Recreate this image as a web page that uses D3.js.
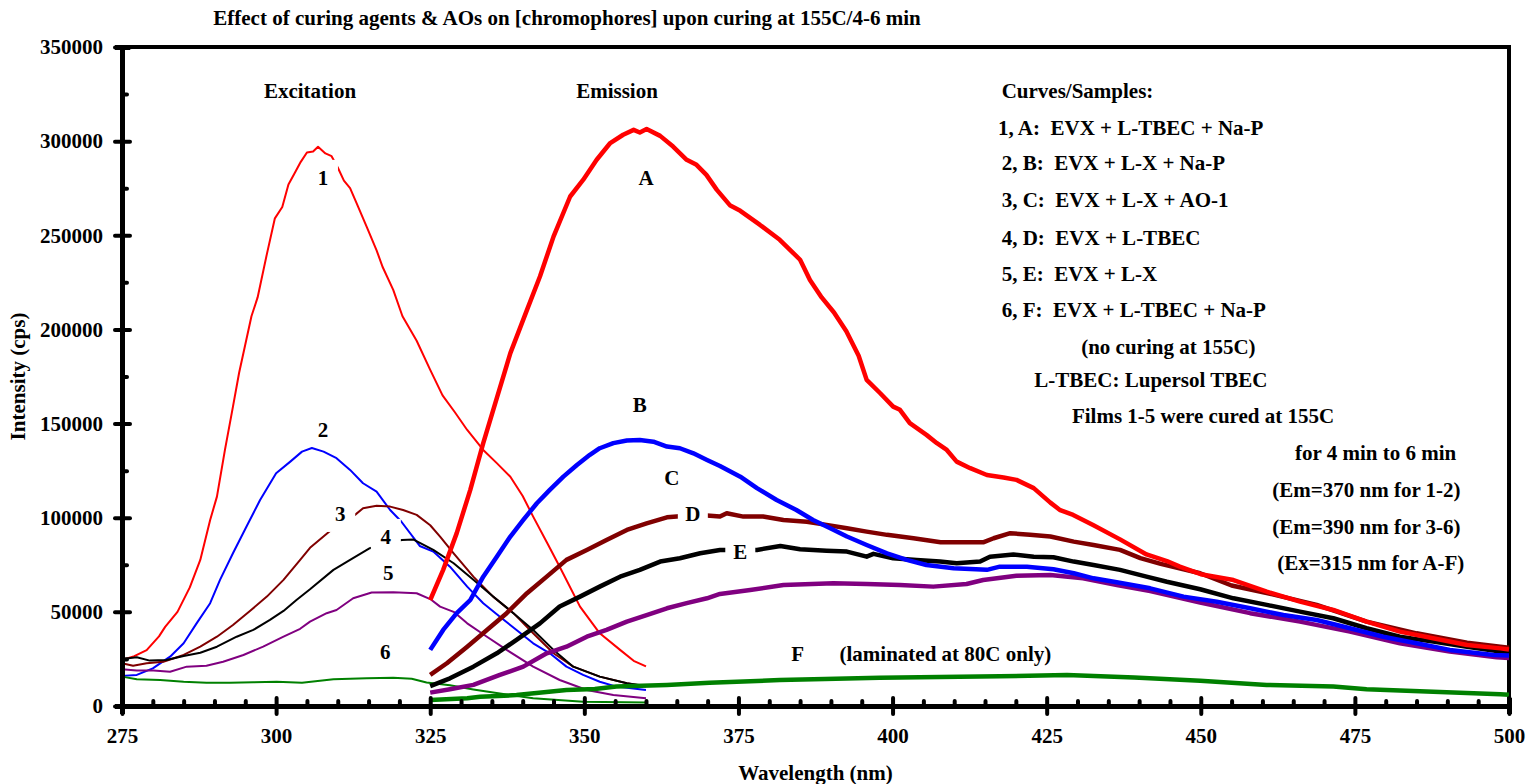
<!DOCTYPE html>
<html>
<head>
<meta charset="utf-8">
<script src="https://cdn.jsdelivr.net/npm/d3@7"></script>
<style>
body { margin: 0; background: #fff; }
svg text { font-family: "Times New Roman", "Liberation Serif", serif; font-weight: bold; fill: #000; white-space: pre; }
</style>
</head>
<body>
<div id="chart"></div>
<script>
// excitation spectra, [wavelength nm, intensity cps]
var ex1 = [[275,24400],[277,26500],[279,29700],[281,37000],[282,42000],[284,50000],[286,63000],[287.7,77600],[289.3,98800],[290.4,111200],[291.7,136000],[293,159000],[294,177000],[295,192000],[296,207000],[297,217000],[298.5,240000],[299.8,259000],[301,265000],[302,277000],[303,283000],[304,289000],[305,294000],[306,294500],[306.8,297000],[308,293500],[309,292000],[310,286000],[311,279000],[312,275000],[313,267500],[314.7,254500],[316.3,242000],[317.3,233000],[319,221000],[320.5,207000],[322.8,194000],[325,178500],[327,165000],[329,156000],[331,146600],[333.6,136000],[335.8,129000],[338,121800],[340,111500],[341.7,100600],[344,86400],[346,74000],[349.3,52800],[352.5,38600],[355.8,29800],[358,24000],[360,21000]];
var ex2 = [[275,16000],[277.4,16500],[280,20000],[282.8,26200],[285,33300],[287.1,43900],[289.3,54600],[290.9,67000],[293,81100],[295.2,95300],[297.4,109400],[300,123600],[302.3,129800],[304.2,135100],[305.8,137000],[307.7,135100],[309.8,131600],[312,125400],[314.1,118300],[316.3,113900],[318.5,104100],[320.3,98000],[323.3,85000],[325.5,82000],[328.2,74000],[331,63400],[333.6,54600],[336.3,47400],[339,40400],[341.7,33300],[344.4,28000],[347.1,20900],[349.8,16500],[352.5,12900],[355.2,10300],[360,8500]];
var ex3 = [[275,22700],[276.8,21400],[279,22700],[281.7,23500],[285,27100],[287.7,31500],[290.4,36800],[293,43000],[295.8,50600],[298.5,58100],[301.2,67000],[303.9,77600],[305.5,84000],[308.6,92600],[310.5,97000],[312.8,101500],[314.1,105000],[316.3,106300],[318.5,105900],[320.6,104100],[322.8,101500],[325,96000],[326.6,90000],[328.8,81100],[332,68700],[335.2,58100],[338.5,49300],[341.7,38600],[345,28000],[348.2,20900],[352.5,15600],[356.9,12100],[360,10300]];
var ex4 = [[275,25000],[277.4,25900],[279.5,24100],[282.2,24400],[285,26600],[287.7,28300],[290.4,31500],[293.6,36800],[296.3,40400],[299,45700],[301.2,50500],[303.3,56300],[305.5,62000],[309.3,72300],[312,77600],[315.2,83800],[317.5,86000],[320.4,88200],[322.3,88400],[325.5,82900],[328.8,75800],[332,67000],[335.2,58100],[338.5,49300],[341.7,40400],[345,29800],[348.2,20900],[352.5,15600],[356.9,12100],[360,10600]];
var ex5 = [[275,19500],[277.4,18800],[280.1,18800],[282.8,18200],[285.5,20900],[288.7,21400],[291.4,23500],[294.7,27100],[297.9,31500],[301.2,36800],[303.9,41000],[305.5,44800],[308.2,49300],[309.8,51000],[312.5,57200],[315.5,60300],[319,60400],[322.8,59900],[325,56800],[326.6,52800],[328.8,50000],[331,43900],[334.2,36800],[337.4,29800],[341.7,20900],[346,13800],[350.4,8500],[354.7,5800],[360,4100]];
var ex6 = [[275,15600],[277.4,14200],[281.2,13800],[285,12900],[288.7,12400],[292.5,12400],[296.3,12600],[300.1,12900],[304.2,12400],[309.3,14200],[314.7,14700],[319,15000],[322,14500],[324.4,12500],[328.2,11000],[332,8800],[336.3,6600],[341.7,4100],[349.8,2300],[360,1800]];

// emission spectra
var emA = [[325,56300],[327.1,72300],[329.3,91800],[331.5,114800],[333.6,139600],[335.8,163500],[338,187400],[340.7,210400],[342.8,228100],[345,249300],[347.7,270600],[349.8,279400],[352,290100],[354.2,299000],[356.3,303400],[358,306000],[359,304600],[360.1,306400],[362.3,302800],[364.4,297100],[366.6,290100],[368.2,287400],[369.8,282100],[371.5,274100],[373.6,266000],[375.3,263000],[378.5,255500],[381.7,247600],[385,237000],[386.6,226300],[388.5,217000],[390.5,209000],[392.5,199000],[394.5,186000],[395.8,173200],[398,166100],[400.1,159000],[401.2,157300],[402.8,150200],[405.5,144000],[407.2,139600],[408.8,136000],[410.4,129800],[412.6,126300],[415.3,122700],[418,121400],[420.1,120100],[422.9,115700],[425.6,108000],[427.2,104000],[429.3,101500],[432.6,96000],[436.9,88500],[441.2,80500],[444.5,77000],[446.6,74000],[450,70000],[455.3,66900],[460.7,60700],[466.1,55400],[471.5,51000],[476.9,44800],[482.3,39500],[487.7,36000],[493.2,32400],[498.6,30600],[500,30000]];
var emB = [[325,29800],[327.1,40400],[329.3,49300],[331.5,56300],[333.6,68700],[335.8,79300],[338,90000],[340.1,98800],[342.3,107700],[344.4,114800],[346.6,121800],[348.8,128000],[350.9,133400],[352.5,136900],[354.7,139600],[356.9,141000],[359,141300],[361.2,140400],[363.4,137800],[365.5,136900],[367.7,134200],[369.9,130700],[372,127500],[375.3,121800],[378,115700],[381.2,109400],[384.4,104100],[387.1,98800],[389.9,94400],[392.6,90000],[395.8,85500],[399.1,81100],[402.3,77600],[405.5,74900],[409.9,73200],[415.3,72300],[417.4,74000],[421.8,74000],[426.1,72600],[429.4,70500],[432.6,67800],[436.6,65600],[441.8,62500],[447.2,58100],[452.6,55400],[458,51900],[463.4,48300],[468.8,45700],[474.2,41300],[479.6,36800],[485,33300],[490.4,29800],[497.5,27100],[500,26800]];
var emC = [[325,16500],[327.7,22700],[331,31500],[334.2,40400],[337.4,49300],[340.7,59900],[343.9,68700],[347.1,77600],[350.4,82900],[353.6,88200],[356.9,93500],[360.1,97000],[363.4,100200],[365,100600],[368.8,101500],[372,100600],[373.1,102400],[375.8,100600],[379,100600],[382.3,98800],[386.1,97900],[389.3,96200],[392.6,94400],[395.8,92600],[399.1,90900],[403.4,89100],[407.8,87000],[412.1,87000],[414.8,87000],[416.4,89100],[419.1,91800],[422.3,90900],[425.6,90000],[429.4,87300],[432.6,85500],[436.9,82900],[440.2,78500],[443.5,75500],[449.9,70500],[455,64000],[460.7,60000],[468.8,53700],[476.9,44800],[485,38600],[493.2,33600],[498.6,31500],[500,31000]];
var emD = [[325,10600],[328.2,14700],[332,20900],[335.8,28000],[339,35100],[342.8,43900],[346,52800],[349.3,58100],[352.5,63400],[355.8,68700],[359,72300],[362.3,76700],[365.5,78500],[368.8,81100],[372,82900],[378,82900],[381.8,85000],[385,83300],[389.3,82500],[392.6,82000],[395.8,79300],[396.9,80800],[400.1,78500],[403.9,77600],[407.7,76700],[410.4,75800],[414.2,76700],[415.8,79300],[419.6,80500],[422.9,79300],[426.1,79000],[429.4,76700],[432.6,74900],[436.9,72300],[441.2,68700],[444.5,66000],[449.9,62000],[455.3,57200],[460.7,53700],[466.1,50100],[471.5,46600],[476.9,41300],[482.3,36800],[487.7,34200],[493.2,31500],[498.6,28900],[500,28500]];
var emE = [[325,7100],[328.2,8900],[332,11200],[336.3,16500],[340.1,20900],[343.9,28000],[347.1,31500],[350.4,36800],[353.6,40400],[356.9,44800],[360.1,48300],[363.4,51900],[366.6,54600],[369.9,57200],[372,59500],[376.9,61600],[382.3,64300],[390.4,65200],[395.8,64800],[401.2,64300],[406.6,63400],[412,64800],[414.7,66900],[420.1,69200],[425.6,69600],[430.9,67800],[436.4,64300],[441.8,61000],[449.9,55000],[458,49300],[466.1,44800],[474.2,39500],[482.3,33300],[490.4,28900],[498,25900],[500,25500]];
var emF = [[325,3200],[331,4100],[333.1,4900],[339,5800],[347.1,8500],[351.7,9000],[355.2,10300],[363.4,11200],[370.3,12300],[381.7,13800],[389,14300],[397.9,15000],[407.6,15400],[417.4,15800],[428.3,16500],[439.2,15200],[449.9,13400],[460.7,11200],[471.5,10300],[476.9,8900],[487.7,7600],[498.6,6200],[500,6000]];

var colors = ["#ff0000", "#0000ff", "#800000", "#000000", "#800080", "#008000"];
var excitation = [ex1, ex2, ex3, ex4, ex5, ex6];
var emission = [emA, emB, emC, emD, emE, emF];

var xTicks = d3.range(275, 501, 25);
var yTicks = d3.range(0, 350001, 50000);

// curve labels: [text, nm, intensity, boxed]
var curveLabels = [
    ["1", 307.6, 280500, true], ["2", 307.6, 146600, false], ["3", 310.4, 102000, true],
    ["4", 317.8, 89800, true], ["5", 318.2, 70700, true], ["6", 317.7, 28700, false],
    ["A", 360.0, 280500, false], ["B", 359.0, 159900, false], ["C", 364.2, 121100, false],
    ["D", 367.6, 102000, true], ["E", 375.3, 81800, true], ["F", 384.6, 27600, false]
];

// notes: [text, nm, intensity, anchor]
var notes = [
    ["Excitation", 305.5, 326700, "middle"],
    ["Emission", 355.3, 326700, "middle"],
    ["Curves/Samples:", 417.7, 326700, "start"],
    ["1, A:  EVX + L-TBEC + Na-P", 417.1, 307100, "start"],
    ["2, B:  EVX + L-X + Na-P", 417.7, 288500, "start"],
    ["3, C:  EVX + L-X + AO-1", 417.7, 268800, "start"],
    ["4, D:  EVX + L-TBEC", 417.7, 248600, "start"],
    ["5, E:  EVX + L-X", 417.7, 229500, "start"],
    ["6, F:  EVX + L-TBEC + Na-P", 417.7, 210400, "start"],
    ["(no curing at 155C)", 430.6, 190700, "start"],
    ["L-TBEC: Lupersol TBEC", 423.0, 173200, "start"],
    ["Films 1-5 were cured at 155C", 429.1, 154100, "start"],
    ["for 4 min to 6 min", 465.3, 134400, "start"],
    ["(Em=370 nm for 1-2)", 461.6, 114800, "start"],
    ["(Em=390 nm for 3-6)", 461.6, 95100, "start"],
    ["(Ex=315 nm for A-F)", 462.4, 76000, "start"],
    ["(laminated at 80C only)", 391.4, 27600, "start"]
];

var width = 1527, height = 784;
var svg = d3.select("#chart").append("svg")
    .attr("width", width)
    .attr("height", height);

var x = d3.scaleLinear().domain([275, 500]).range([122, 1509]);
var y = d3.scaleLinear().domain([0, 350000]).range([706, 47]);

var line = d3.line()
    .x(function(d) { return x(d[0]); })
    .y(function(d) { return y(d[1]); });

// frame top and right
svg.append("path")
    .attr("d", "M" + x(275) + "," + y(350000) + "H" + x(500) + "V" + y(0))
    .attr("fill", "none").attr("stroke", "#000").attr("stroke-width", 4);

// thin excitation lines first, thick emission lines above
svg.append("g").selectAll("path")
    .data(excitation)
    .enter().append("path")
    .attr("d", line)
    .attr("fill", "none")
    .attr("stroke", function(d, i) { return colors[i]; })
    .attr("stroke-width", 2)
    .attr("stroke-linejoin", "round");

svg.append("g").selectAll("path")
    .data(emission.slice().reverse())
    .enter().append("path")
    .attr("d", line)
    .attr("fill", "none")
    .attr("stroke", function(d, i) { return colors[5 - i]; })
    .attr("stroke-width", 4.5)
    .attr("stroke-linejoin", "round");

// y axis
var yAxis = svg.append("g").attr("transform", "translate(" + x(275) + ",0)");
yAxis.call(d3.axisLeft(y).tickValues(yTicks).tickSize(7).tickPadding(12).tickFormat(d3.format("d")));
yAxis.append("g").call(d3.axisRight(y).tickValues(yTicks).tickSize(8).tickFormat(""));
yAxis.append("g").call(d3.axisRight(y).tickValues(d3.range(25000, 350000, 50000)).tickSize(5).tickFormat(""));

// x axis
var xAxis = svg.append("g").attr("transform", "translate(0," + y(0) + ")");
xAxis.call(d3.axisBottom(x).tickValues(xTicks).tickSize(8).tickPadding(14));
xAxis.append("g").call(d3.axisTop(x).tickValues(xTicks).tickSize(8).tickFormat(""));
xAxis.append("g").call(d3.axisTop(x).tickValues(d3.range(280, 500, 5).filter(function(v) { return v % 25 !== 0; })).tickSize(5).tickFormat(""));

svg.selectAll(".domain").attr("stroke", "#000").attr("stroke-width", 5);
svg.selectAll(".tick line").attr("stroke", "#000").attr("stroke-width", 4).attr("stroke-linecap", "round");
svg.selectAll(".tick text").style("font-size", "21px").attr("fill", "#000");

// curve labels, some on white boxes that hide the line
var lab = svg.append("g").selectAll("g")
    .data(curveLabels)
    .enter().append("g")
    .attr("transform", function(d) { return "translate(" + x(d[1]) + "," + y(d[2]) + ")"; });
lab.filter(function(d) { return d[3]; }).append("rect")
    .attr("x", -15).attr("y", -18).attr("width", 30).attr("height", 36)
    .attr("fill", "#fff");
lab.append("text")
    .attr("text-anchor", "middle")
    .attr("dy", "0.35em")
    .style("font-size", "21px")
    .text(function(d) { return d[0]; });

svg.append("g").selectAll("text")
    .data(notes)
    .enter().append("text")
    .attr("x", function(d) { return x(d[1]); })
    .attr("y", function(d) { return y(d[2]); })
    .attr("dy", "0.35em")
    .attr("text-anchor", function(d) { return d[3]; })
    .style("font-size", "21px")
    .text(function(d) { return d[0]; });

// titles
svg.append("text")
    .attr("x", 567).attr("y", 18).attr("dy", "0.35em")
    .attr("text-anchor", "middle")
    .style("font-size", "21px")
    .text("Effect of curing agents & AOs on [chromophores] upon curing at 155C/4-6 min");

svg.append("text")
    .attr("x", (x(275) + x(500)) / 2).attr("y", 773).attr("dy", "0.35em")
    .attr("text-anchor", "middle")
    .style("font-size", "21px")
    .text("Wavelength (nm)");

svg.append("text")
    .attr("transform", "translate(18," + (y(0) + y(350000)) / 2 + ") rotate(-90)")
    .attr("dy", "0.35em")
    .attr("text-anchor", "middle")
    .style("font-size", "21px")
    .text("Intensity (cps)");
</script>
</body>
</html>
